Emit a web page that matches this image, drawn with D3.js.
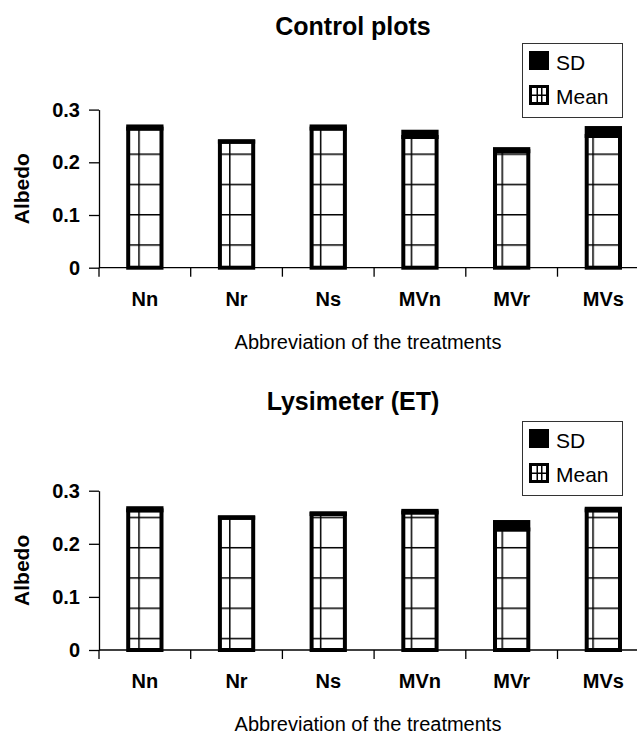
<!DOCTYPE html>
<html>
<head>
<meta charset="utf-8">
<script src="https://cdn.jsdelivr.net/npm/d3@7/dist/d3.min.js"></script>
<style>
  html, body { margin: 0; padding: 0; background: #fff; }
  svg { display: block; }
  text { font-family: "Liberation Sans", Arial, Helvetica, sans-serif; fill: #000; }
</style>
</head>
<body>
<svg id="chart" width="637" height="734"></svg>
<script>
// ---- data ----
const categories = ["Nn", "Nr", "Ns", "MVn", "MVr", "MVs"];
const controlMean = [0.264, 0.239, 0.264, 0.248, 0.221, 0.250];
const controlSD   = [0.004, 0.001, 0.004, 0.010, 0.004, 0.015];
const lysMean     = [0.263, 0.249, 0.256, 0.259, 0.227, 0.263];
const lysSD       = [0.004, 0.001, 0.0015, 0.003, 0.014, 0.003];
const yTicks = [0, 0.1, 0.2, 0.3];
const panelTitles = ["Control plots", "Lysimeter (ET)"];
const legendLabels = ["SD", "Mean"];
const xAxisTitle = "Abbreviation of the treatments";
const yAxisTitle = "Albedo";

const svg = d3.select("#chart");
const FONT = '"Liberation Sans", Arial, Helvetica, sans-serif';

// page-anchored grid pattern (fill of Mean bars)
const P = 30.27;
const defs = svg.append("defs");
const pat = defs.append("pattern")
  .attr("id", "grid")
  .attr("patternUnits", "userSpaceOnUse")
  .attr("x", 139 - 0.75).attr("y", 245 - 0.75)
  .attr("width", P).attr("height", P);
pat.append("rect").attr("width", P).attr("height", P).attr("fill", "#fff");
pat.append("rect").attr("x", 0).attr("y", 0).attr("width", 1.5).attr("height", P).attr("fill", "#000");
pat.append("rect").attr("x", 0).attr("y", 0).attr("width", P).attr("height", 1.5).attr("fill", "#000");

const x = d3.scaleBand().domain(categories).range([99, 99 + 6 * 91.7]).padding(0);
const barFrac = 0.363;

function panel(cfg) {
  const { means, sds, y0, y3, title, titleY, legendY } = cfg;
  const y = d3.scaleLinear().domain([0, 0.3]).range([y0, y3]);
  const g = svg.append("g");

  // title
  g.append("text").attr("x", 353).attr("y", titleY)
    .attr("text-anchor", "middle").attr("font-size", 25).attr("font-weight", "bold")
    .text(title);

  // bars
  const bw = x.step() * barFrac;
  const bx = d => x(d) + (x.step() - bw) / 2;
  const data = categories.map((c, i) => ({ c, m: means[i], s: sds[i] }));
  const bars = g.append("g");
  // mean fill (pattern)
  bars.selectAll("rect.mean").data(data).join("rect")
    .attr("class", "mean")
    .attr("x", d => bx(d.c)).attr("width", bw)
    .attr("y", d => y(d.m)).attr("height", d => y(0) - y(d.m))
    .attr("fill", "url(#grid)").attr("stroke", "#000").attr("stroke-width", 4);
  // SD (black) stacked on top
  bars.selectAll("rect.sd").data(data).join("rect")
    .attr("class", "sd")
    .attr("x", d => bx(d.c)).attr("width", bw)
    .attr("y", d => y(d.m + d.s)).attr("height", d => y(d.m) - y(d.m + d.s))
    .attr("fill", "#000").attr("stroke", "#000").attr("stroke-width", 4);

  // x axis line and boundary ticks
  const xr = x.range();
  g.append("line").attr("x1", xr[0]).attr("x2", xr[1])
    .attr("y1", y0).attr("y2", y0).attr("stroke", "#000").attr("stroke-width", 1.3);
  const bounds = categories.map(c => x(c)).concat([xr[1]]);
  g.selectAll("line.xt").data(bounds).join("line")
    .attr("class", "xt")
    .attr("x1", d => d).attr("x2", d => d)
    .attr("y1", y0).attr("y2", y0 + 9)
    .attr("stroke", "#000").attr("stroke-width", 1.3);
  g.selectAll("text.cat").data(categories).join("text")
    .attr("class", "cat")
    .attr("x", d => x(d) + x.step() / 2).attr("y", y0 + 38)
    .attr("text-anchor", "middle").attr("font-size", 20).attr("font-weight", "bold")
    .text(d => d);
  g.append("text").attr("x", 368).attr("y", y0 + 81)
    .attr("text-anchor", "middle").attr("font-size", 20)
    .text(xAxisTitle);

  // y axis
  const ya = g.append("g").attr("transform", `translate(99,0)`)
    .call(d3.axisLeft(y).tickValues(yTicks).tickSize(10).tickSizeOuter(0).tickPadding(9)
      .tickFormat(d => d === 0 ? "0" : d3.format(".1f")(d)));
  ya.select(".domain").attr("stroke", "#000").attr("stroke-width", 1.3);
  ya.selectAll(".tick line").attr("stroke", "#000").attr("stroke-width", 1.3);
  ya.selectAll(".tick text").attr("font-family", FONT).attr("font-size", 20)
    .attr("font-weight", "bold").attr("fill", "#000");

  g.append("text")
    .attr("transform", `translate(29,${(y(0) + y(0.3)) / 2}) rotate(-90)`)
    .attr("text-anchor", "middle").attr("font-size", 21).attr("font-weight", "bold")
    .text(yAxisTitle);

  // legend
  const lg = g.append("g").attr("transform", `translate(522,${legendY})`);
  lg.append("rect").attr("x", 0.5).attr("y", 0.5).attr("width", 100).attr("height", 74)
    .attr("fill", "#fff").attr("stroke", "#333").attr("stroke-width", 1);
  lg.append("rect").attr("x", 7).attr("y", 8).attr("width", 20).attr("height", 19).attr("fill", "#000");
  lg.append("text").attr("x", 34).attr("y", 27).attr("font-size", 21).text(legendLabels[0]);
  const ms = lg.append("g").attr("transform", "translate(7,42)");
  ms.append("rect").attr("width", 20).attr("height", 20).attr("fill", "#000");
  ms.append("rect").attr("x", 3).attr("y", 3).attr("width", 14).attr("height", 14).attr("fill", "#fff");
  ms.append("rect").attr("x", 3).attr("y", 9.5).attr("width", 14).attr("height", 1.5).attr("fill", "#000");
  ms.append("rect").attr("x", 7.5).attr("y", 3).attr("width", 1.5).attr("height", 14).attr("fill", "#000");
  ms.append("rect").attr("x", 12).attr("y", 3).attr("width", 1.5).attr("height", 14).attr("fill", "#000");
  lg.append("text").attr("x", 34).attr("y", 61).attr("font-size", 21).text(legendLabels[1]);
}

panel({ means: controlMean, sds: controlSD, y0: 267.7, y3: 109.6,
        title: panelTitles[0], titleY: 35, legendY: 43 });
panel({ means: lysMean, sds: lysSD, y0: 650, y3: 490.7,
        title: panelTitles[1], titleY: 410, legendY: 421 });
</script>
</body>
</html>
